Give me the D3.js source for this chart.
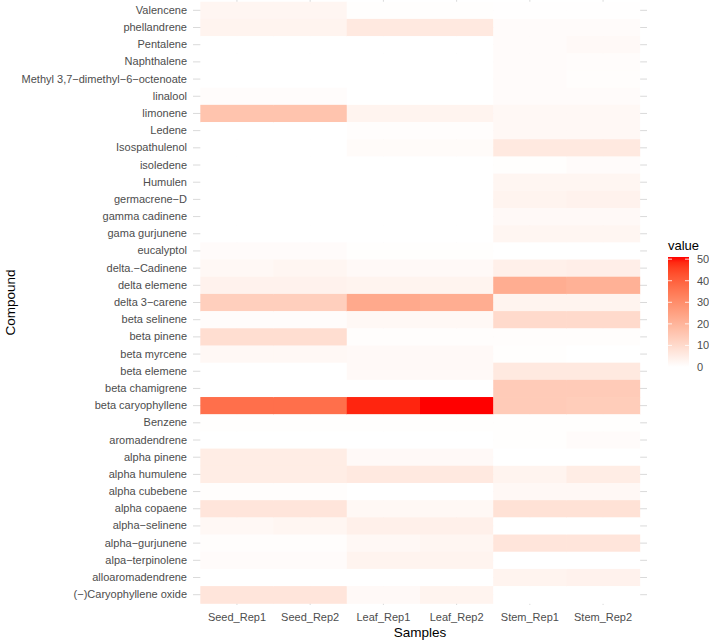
<!DOCTYPE html>
<html>
<head>
<meta charset="utf-8">
<script src="https://cdn.jsdelivr.net/npm/d3@7"></script>
<style>
    body { margin: 0; background: #fff; }
    svg { display: block; font-family: "Liberation Sans", Arial, sans-serif; }
</style>
</head>
<body>
<div id="chart"></div>
<script>
// compounds, top to bottom as drawn
var compounds = [
    "Valencene", "phellandrene", "Pentalene", "Naphthalene",
    "Methyl 3,7\u2212dimethyl\u22126\u2212octenoate", "linalool", "limonene", "Ledene",
    "Isospathulenol", "isoledene", "Humulen", "germacrene\u2212D",
    "gamma cadinene", "gama gurjunene", "eucalyptol", "delta.\u2212Cadinene",
    "delta elemene", "delta 3\u2212carene", "beta selinene", "beta pinene",
    "beta myrcene", "beta elemene", "beta chamigrene", "beta caryophyllene",
    "Benzene", "aromadendrene", "alpha pinene", "alpha humulene",
    "alpha cubebene", "alpha copaene", "alpha\u2212selinene", "alpha\u2212gurjunene",
    "alpa\u2212terpinolene", "alloaromadendrene", "(\u2212)Caryophyllene oxide"
];
var samples = ["Seed_Rep1", "Seed_Rep2", "Leaf_Rep1", "Leaf_Rep2", "Stem_Rep1", "Stem_Rep2"];

// values per sample, same order as compounds
var seedRep1 = [2.5, 3, 0, 0, 0, 0.8, 16, 0, 0, 0, 0, 0, 0, 0, 1, 2, 3.5, 13, 0.8, 9, 2, 0, 0, 37, 0.3, 0, 5, 5, 0.5, 7, 2, 0.5, 1, 0, 7];
var seedRep2 = [2.5, 3, 0, 0, 0, 0.8, 16, 0, 0, 0, 0, 0, 0, 0, 1, 2.5, 3.5, 13, 0.8, 9, 2, 0, 0, 37, 0.3, 0, 5, 5, 0.5, 7, 2.5, 0.5, 1, 0, 7];
var leafRep1 = [0.3, 6, 0, 0, 0, 0, 3, 0.5, 1.2, 0, 0, 0, 0, 0, 0.3, 1.5, 3, 23, 2, 0.5, 1.5, 1.5, 0, 49, 0.3, 0, 1.5, 6, 0, 2, 4, 2, 3, 0, 1.5];
var leafRep2 = [0.3, 6, 0, 0, 0, 0, 3, 0.5, 1.2, 0, 0, 0, 0, 0, 0.3, 1.5, 3, 22, 2, 0.5, 1.5, 1.5, 0, 51, 0.3, 0, 1.5, 6, 0, 2, 4, 2.5, 3, 0, 3];
var stemRep1 = [0.2, 1, 1, 1, 1, 1, 2, 2, 6, 0.3, 2.5, 3, 1.5, 2.5, 0, 4, 22, 3, 10, 0.5, 0.3, 6, 14, 14, 0.3, 0.3, 0, 3, 2, 8, 0, 7, 0, 3, 0];
var stemRep2 = [0.2, 1, 1.5, 0.8, 0.5, 1, 2, 2, 6, 1, 2.5, 3.5, 1.5, 2.5, 0, 4.5, 21, 3, 10, 0.5, 0, 6, 14, 13.5, 0.3, 1, 0, 5, 2, 8, 0, 7, 0, 3.5, 0];

var legendTicks = [0, 10, 20, 30, 40, 50];

var columns = [seedRep1, seedRep2, leafRep1, leafRep2, stemRep1, stemRep2];
var cells = [];
samples.forEach((s, i) => {
    compounds.forEach((c, j) => {
        cells.push({sample: s, compound: c, value: columns[i][j]});
    });
});

var width = 709, height = 641;
var panel = {left: 193, right: 647, top: 0, bottom: 605};

var svg = d3.select("#chart").append("svg")
    .attr("width", width)
    .attr("height", height);

var x = d3.scaleBand().domain(samples)
    .range([panel.left, panel.right])
    .paddingInner(0).paddingOuter(0.1);
var y = d3.scaleBand().domain(compounds)
    .range([panel.top, panel.bottom])
    .paddingInner(0).paddingOuter(0.1);

var vmax = d3.max(cells, d => d.value);
var color = d3.scaleLinear().domain([0, vmax])
    .range(["white", "red"])
    .interpolate(d3.interpolateLab);

// grid lines (theme_minimal), mostly hidden under the tiles
var grid = svg.append("g").attr("class", "grid");
grid.selectAll("line.h").data(compounds).join("line")
    .attr("x1", panel.left).attr("x2", panel.right)
    .attr("y1", d => y(d) + y.bandwidth() / 2)
    .attr("y2", d => y(d) + y.bandwidth() / 2)
    .attr("stroke", "#dadada").attr("stroke-width", 1);
grid.selectAll("line.v").data(samples).join("line")
    .attr("y1", panel.top).attr("y2", panel.bottom)
    .attr("x1", d => x(d) + x.bandwidth() / 2)
    .attr("x2", d => x(d) + x.bandwidth() / 2)
    .attr("stroke", "#dadada").attr("stroke-width", 1);

svg.append("g").selectAll("rect").data(cells).join("rect")
    .attr("x", d => x(d.sample))
    .attr("y", d => y(d.compound))
    .attr("width", x.bandwidth() + 0.5)
    .attr("height", y.bandwidth() + 0.5)
    .attr("fill", d => color(d.value));

// axes
var yAxis = svg.append("g")
    .attr("transform", `translate(${panel.left},0)`)
    .call(d3.axisLeft(y).tickSize(0).tickPadding(6));
var xAxis = svg.append("g")
    .attr("transform", `translate(0,${panel.bottom})`)
    .call(d3.axisBottom(x).tickSize(0).tickPadding(8));
[yAxis, xAxis].forEach(a => {
    a.select(".domain").remove();
    a.selectAll("text")
        .attr("fill", "#4d4d4d")
        .style("font-size", "11px")
        .style("font-family", "'Liberation Sans', Arial, sans-serif");
});

svg.append("text")
    .attr("x", (panel.left + panel.right) / 2)
    .attr("y", 637)
    .attr("text-anchor", "middle")
    .style("font-size", "13.5px")
    .text("Samples");

svg.append("text")
    .attr("transform", `translate(15,${(panel.top + panel.bottom) / 2}) rotate(-90)`)
    .attr("text-anchor", "middle")
    .style("font-size", "13.5px")
    .text("Compound");

// legend
var leg = {x: 668, w: 21, top: 257, bottom: 367};
var ly = d3.scaleLinear().domain([0, vmax]).range([leg.bottom, leg.top]);

var defs = svg.append("defs");
var grad = defs.append("linearGradient")
    .attr("id", "legend-grad")
    .attr("x1", 0).attr("y1", 1).attr("x2", 0).attr("y2", 0);
d3.range(0, 1.0001, 0.05).forEach(t => {
    grad.append("stop")
        .attr("offset", t)
        .attr("stop-color", color(t * vmax));
});

svg.append("text")
    .attr("x", leg.x)
    .attr("y", 250)
    .style("font-size", "13px")
    .text("value");

svg.append("rect")
    .attr("x", leg.x).attr("y", leg.top)
    .attr("width", leg.w).attr("height", leg.bottom - leg.top)
    .attr("fill", "url(#legend-grad)");

var lt = svg.append("g");
lt.selectAll("line.l").data(legendTicks).join("line")
    .attr("x1", leg.x).attr("x2", leg.x + 4)
    .attr("y1", d => ly(d)).attr("y2", d => ly(d))
    .attr("stroke", "white").attr("stroke-width", 0.8);
lt.selectAll("line.r").data(legendTicks).join("line")
    .attr("x1", leg.x + leg.w - 4).attr("x2", leg.x + leg.w)
    .attr("y1", d => ly(d)).attr("y2", d => ly(d))
    .attr("stroke", "white").attr("stroke-width", 0.8);
lt.selectAll("text").data(legendTicks).join("text")
    .attr("x", 697)
    .attr("y", d => ly(d))
    .attr("dy", "0.35em")
    .attr("fill", "#4d4d4d")
    .style("font-size", "11px")
    .text(d => d);
</script>
</body>
</html>
